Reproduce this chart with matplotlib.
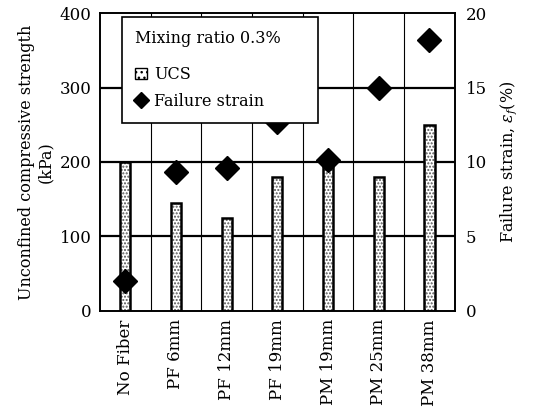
import matplotlib
matplotlib.use("Agg")
import matplotlib.pyplot as plt
import numpy as np

plt.rcParams['font.family'] = ['DejaVu Serif']
plt.rcParams['mathtext.fontset'] = 'dejavuserif'

# fibre cases
casos = ["No Fiber", "PF 6mm", "PF 12mm", "PF 19mm", "PM 19mm", "PM 25mm", "PM 38mm"]
ucs = [200, 145, 125, 180, 195, 180, 250]          # kPa
deformacion = [2.0, 9.3, 9.6, 12.7, 10.1, 15.0, 18.2]  # %

x = np.arange(len(casos))

fig = plt.figure(figsize=(5.46, 4.08), dpi=100)
ax = fig.add_axes([0.183, 0.238, 0.650, 0.730])
ax2 = ax.twinx()

## rejilla
for b in np.arange(0.5, len(casos) - 1, 1.0):
    ax.axvline(b, color='black', lw=0.8, zorder=0)
for h in [100, 200, 300]:
    ax.axhline(h, color='black', lw=1.6, zorder=0)

## barras punteadas
ax.bar(x, ucs, width=0.2, color='white', edgecolor='#555555', hatch='.....',
       linewidth=0, zorder=2)
ax.bar(x, ucs, width=0.2, fill=False, edgecolor='black', linewidth=1.8, zorder=3)

ax2.plot(x, deformacion, 'D', color='black', markersize=12, zorder=4)

ax.set_xlim(-0.5, len(casos) - 0.5)
ax.set_ylim(0, 400)
ax2.set_ylim(0, 20)
ax.set_yticks([0, 100, 200, 300, 400])
ax2.set_yticks([0, 5, 10, 15, 20])
ax.set_xticks(x)
ax.set_xticklabels(casos, rotation=90, fontsize=10.5)
ax.tick_params(axis='both', length=0, labelsize=12, pad=6)
ax2.tick_params(axis='y', length=0, labelsize=12, pad=8)

for a in (ax, ax2):
    for s in a.spines.values():
        s.set_linewidth(1.2)

ax.set_ylabel("Unconfined compressive strength\n(kPa)", fontsize=11.5, labelpad=4)
ax2.set_ylabel(r"Failure strain, $\varepsilon_f$(%)", fontsize=11.5, labelpad=8)

## leyenda
h1 = plt.Rectangle((0, 0), 1, 1, facecolor='white', edgecolor='black', hatch='...', lw=1)
h2 = plt.Line2D([], [], marker='D', color='black', linestyle='none', markersize=8)
leg = ax2.legend([h1, h2], ["UCS", "Failure strain"], title="Mixing ratio 0.3%",
                 loc='upper left', bbox_to_anchor=(0.062, 0.987, 0.552, 0.0),
                 mode='expand', borderaxespad=0, fontsize=11.5, title_fontsize=11.5,
                 frameon=True, fancybox=False, framealpha=1, edgecolor='black',
                 handlelength=0.8, handletextpad=0.4, borderpad=0.8,
                 labelspacing=0.6, alignment='left')
leg.get_frame().set_linewidth(1.2)
leg._legend_box.sep = 14
leg._legend_handle_box.align = 'left'
for c in leg._legend_handle_box.get_children():
    c.align = 'baseline'
leg._legend_handle_box.sep = 0
leg.set_zorder(10)

plt.savefig("out.png", dpi=100)
